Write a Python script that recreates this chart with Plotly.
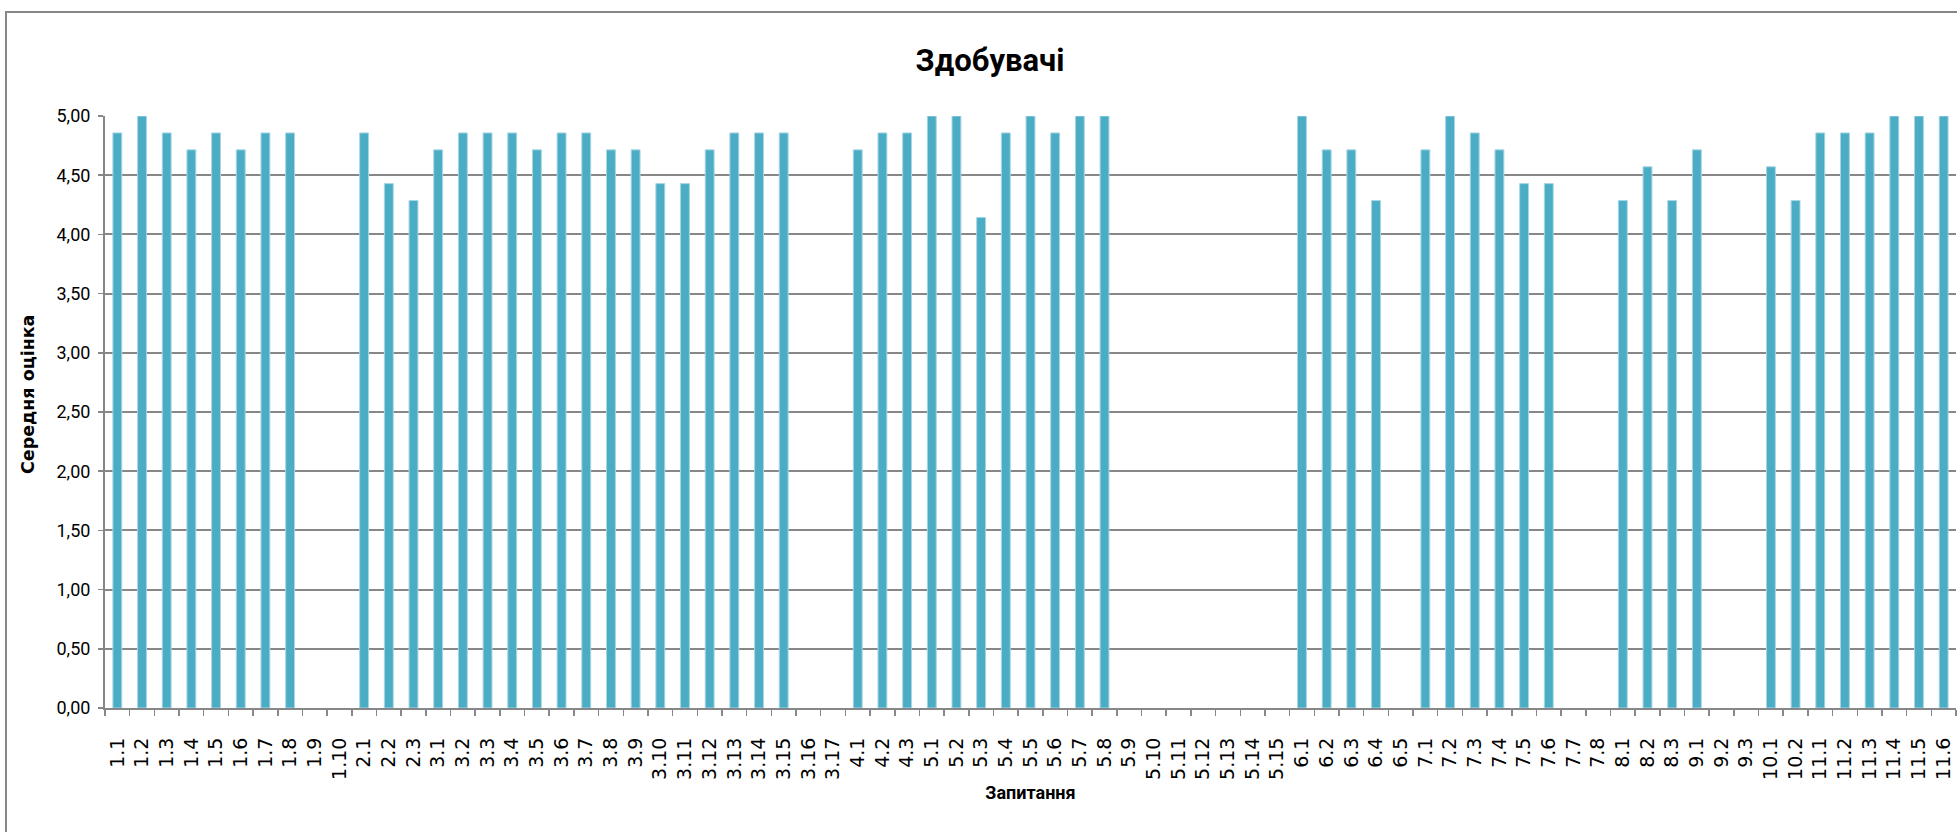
import plotly.graph_objects as go

categories = [
    "1.1", "1.2", "1.3", "1.4", "1.5", "1.6", "1.7", "1.8", "1.9", "1.10",
    "2.1", "2.2", "2.3",
    "3.1", "3.2", "3.3", "3.4", "3.5", "3.6", "3.7", "3.8", "3.9", "3.10",
    "3.11", "3.12", "3.13", "3.14", "3.15", "3.16", "3.17",
    "4.1", "4.2", "4.3",
    "5.1", "5.2", "5.3", "5.4", "5.5", "5.6", "5.7", "5.8", "5.9", "5.10",
    "5.11", "5.12", "5.13", "5.14", "5.15",
    "6.1", "6.2", "6.3", "6.4", "6.5",
    "7.1", "7.2", "7.3", "7.4", "7.5", "7.6", "7.7", "7.8",
    "8.1", "8.2", "8.3",
    "9.1", "9.2", "9.3",
    "10.1", "10.2",
    "11.1", "11.2", "11.3", "11.4", "11.5", "11.6",
]

values = [
    4.857, 5.000, 4.857, 4.714, 4.857, 4.714, 4.857, 4.857, None, None,
    4.857, 4.429, 4.286,
    4.714, 4.857, 4.857, 4.857, 4.714, 4.857, 4.857, 4.714, 4.714, 4.429,
    4.429, 4.714, 4.857, 4.857, 4.857, None, None,
    4.714, 4.857, 4.857,
    5.000, 5.000, 4.143, 4.857, 5.000, 4.857, 5.000, 5.000, None, None,
    None, None, None, None, None,
    5.000, 4.714, 4.714, 4.286, None,
    4.714, 5.000, 4.857, 4.714, 4.429, 4.429, None, None,
    4.286, 4.571, 4.286,
    4.714, None, None,
    4.571, 4.286,
    4.857, 4.857, 4.857, 5.000, 5.000, 5.000,
]

y_ticks = [0, 0.5, 1, 1.5, 2, 2.5, 3, 3.5, 4, 4.5, 5]

title_text = "Здобувачі"
x_title = "Запитання"
y_title = "Середня оцінка"

W, H = 1957, 832
L, R, T, B = 105, 1, 116, 124
PW, PH = W - L - R, H - T - B

def px_x(x):
    return (x - L) / PW

def px_y(y):
    return (H - B - y) / PH

narrow = "Roboto, Liberation Sans, sans-serif"
grid = "#878787"

fig = go.Figure(
    go.Bar(
        x=categories,
        y=values,
        marker=dict(color="#4BACC6", line=dict(color="#a6d6e3", width=1)),
        hoverinfo="skip",
    )
)

fig.update_layout(
    width=W,
    height=H,
    margin=dict(l=L, r=R, t=T, b=B, pad=0),
    paper_bgcolor="white",
    plot_bgcolor="white",
    separators=", ",
    bargap=0.64,
    showlegend=False,
    title=dict(
        text=title_text,
        x=990 / W,
        xref="container",
        xanchor="center",
        y=1 - 60 / H,
        yref="container",
        yanchor="middle",
        font=dict(family=narrow, size=31, color="black", weight="bold"),
    ),
    xaxis=dict(
        type="category",
        range=[-0.5, len(categories) - 0.5],
        tickangle=-90,
        tickfont=dict(family="DejaVu Sans", size=19, color="black"),
        ticks="outside",
        tickson="boundaries",
        ticklen=6,
        tickwidth=1.5,
        tickcolor=grid,
        ticklabelstandoff=20,
        showline=True,
        linecolor=grid,
        linewidth=2,
        showgrid=False,
        title=dict(
            text=x_title,
            font=dict(family=narrow, size=18, color="black", weight="bold"),
            standoff=7,
        ),
        fixedrange=True,
    ),
    yaxis=dict(
        range=[0, 5],
        tickvals=y_ticks,
        tickformat=".2f",
        tickfont=dict(family=narrow, size=18, color="black"),
        ticks="outside",
        ticklen=5,
        tickwidth=1.5,
        tickcolor=grid,
        ticklabelstandoff=4,
        showline=True,
        linecolor=grid,
        linewidth=2,
        showgrid=True,
        gridcolor=grid,
        gridwidth=2,
        zeroline=False,
        fixedrange=True,
    ),
    annotations=[
        dict(
            text=y_title,
            x=px_x(28),
            y=px_y(395),
            xref="paper",
            yref="paper",
            textangle=-90,
            showarrow=False,
            xanchor="center",
            yanchor="middle",
            font=dict(family="DejaVu Sans", size=17.5, color="black", weight="bold"),
        )
    ],
    shapes=[
        dict(
            type="rect",
            xref="paper",
            yref="paper",
            x0=px_x(6),
            x1=px_x(W + 10),
            y0=px_y(H + 10),
            y1=px_y(12),
            line=dict(color=grid, width=2),
            fillcolor="rgba(0,0,0,0)",
            layer="below",
        )
    ],
)

fig.write_html(
    "out.html",
    config={"displayModeBar": False, "staticPlot": True},
    post_script="document.body.style.margin='0';document.body.style.overflow='hidden';",
)
